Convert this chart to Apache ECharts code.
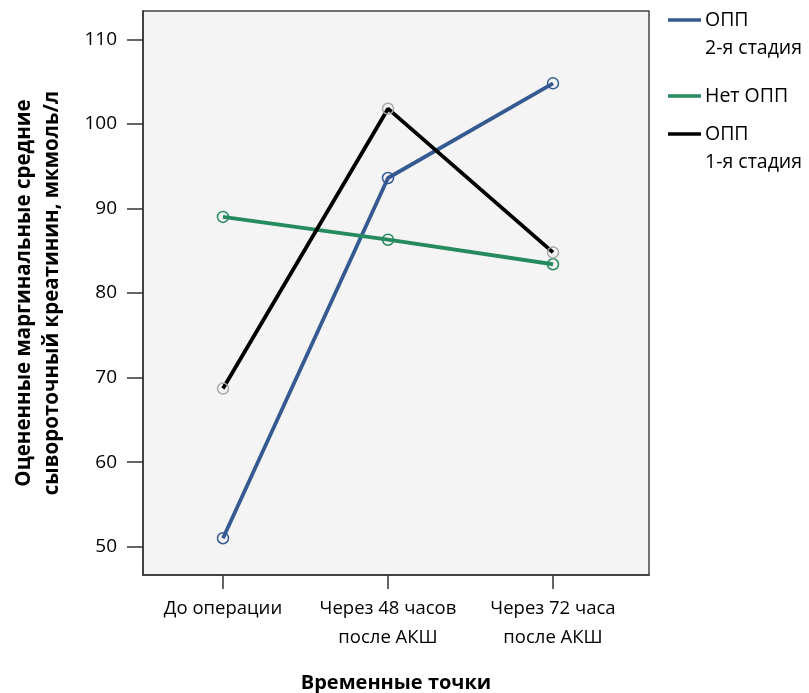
<!DOCTYPE html>
<html>
<head>
<meta charset="utf-8">
<script src="https://cdn.jsdelivr.net/npm/echarts@6/dist/echarts.min.js"></script>
<style>html,body{margin:0;padding:0;background:#fff;}#c{width:809px;height:693px;}</style>
</head>
<body>
<div id="c"></div>
<script>
const categories = ['До операции', 'Через 48 часов\nпосле АКШ', 'Через 72 часа\nпосле АКШ'];
const yTicks = [50, 60, 70, 80, 90, 100, 110];
const seriesNames = ['ОПП\n2-я стадия', 'Нет ОПП', 'ОПП\n1-я стадия'];
const opp2 = [51.0, 93.6, 104.8];
const noOpp = [89.0, 86.3, 83.4];
const opp1 = [68.7, 101.8, 84.8];

const FONT = 'Open Sans';
const YMIN = 46.65, YMAX = 113.35;
const colors = ['#355a92', '#268a5f', '#000000'];
const markerColors = ['#355a92', '#268a5f', '#a8a8a8'];
const dataSets = [opp2, noOpp, opp1];

const chart = echarts.init(document.getElementById('c'));

const series = dataSets.map((d, i) => ({
  name: seriesNames[i],
  type: 'line',
  xAxisIndex: 1,
  yAxisIndex: 1,
  data: d,
  symbol: 'circle',
  symbolSize: 11,
  showSymbol: true,
  z: i === 2 ? 3 : 2,
  lineStyle: { color: colors[i], width: 3.8 },
  itemStyle: { color: 'rgba(0,0,0,0)', borderColor: markerColors[i], borderWidth: 1.5 },
  emphasis: { disabled: true },
  animation: false
}));

// legend as graphics
const legendGraphics = [];
const legendY = [20, 96, 134];
seriesNames.forEach((n, i) => {
  const lines = n.split('\n');
  legendGraphics.push({
    type: 'line', shape: { x1: 668, y1: legendY[i], x2: 701, y2: legendY[i] },
    style: { stroke: colors[i], lineWidth: 3.5 }
  });
  lines.forEach((t, k) => {
    legendGraphics.push({
      type: 'text', x: 705, y: legendY[i] + k * 28,
      style: { text: t, font: '19.5px "' + FONT + '"', fill: '#000', verticalAlign: 'middle', align: 'left' }
    });
  });
});

chart.setOption({
  animation: false,
  backgroundColor: '#ffffff',
  grid: [
    { left: 143, top: 11, width: 506, height: 564, outerBoundsMode: 'none', containLabel: false, show: true, backgroundColor: '#f4f4f4', borderColor: '#444', borderWidth: 1.5 },
    { left: 140.5, top: 11, width: 495, height: 564, outerBoundsMode: 'none', containLabel: false }
  ],
  xAxis: [
    { type: 'value', gridIndex: 0, min: 0, max: 1, axisLine: { show: true, lineStyle: { color: '#333', width: 1.5 } },
      axisTick: { show: false }, axisLabel: { show: false }, splitLine: { show: false } },
    { type: 'category', gridIndex: 1, data: categories, boundaryGap: true,
      axisLine: { show: false },
      axisTick: { show: true, alignWithLabel: true, length: 14, lineStyle: { color: '#333', width: 1.5 } },
      axisLabel: { interval: 0, margin: 19, color: '#000', fontSize: 18.5, fontFamily: FONT, lineHeight: 29 },
      splitLine: { show: false },
      name: 'Временные точки', nameLocation: 'middle', nameGap: 98,
      nameTextStyle: { fontSize: 20, fontWeight: 'bold', fontFamily: FONT, color: '#000', padding: [0, 0, 0, 16] }
    }
  ],
  yAxis: [
    { type: 'value', gridIndex: 0, min: YMIN, max: YMAX,
      axisLine: { show: true, lineStyle: { color: '#333', width: 1.5 } },
      axisTick: { show: true, length: 16, customValues: yTicks, lineStyle: { color: '#333', width: 1.5 } },
      axisLabel: { customValues: yTicks, margin: 26, color: '#000', fontSize: 19, fontFamily: FONT },
      splitLine: { show: false },
      name: 'Оцененные маргинальные средние\nсывороточный креатинин, мкмоль/л',
      nameLocation: 'middle', nameGap: 76.5, nameRotate: 90,
      nameTextStyle: { fontSize: 20.5, fontWeight: 'bold', fontFamily: FONT, color: '#000', lineHeight: 28 }
    },
    { type: 'value', gridIndex: 1, min: YMIN, max: YMAX, show: false, splitLine: { show: false } }
  ],
  graphic: legendGraphics,
  series: series
});
</script>
</body>
</html>
